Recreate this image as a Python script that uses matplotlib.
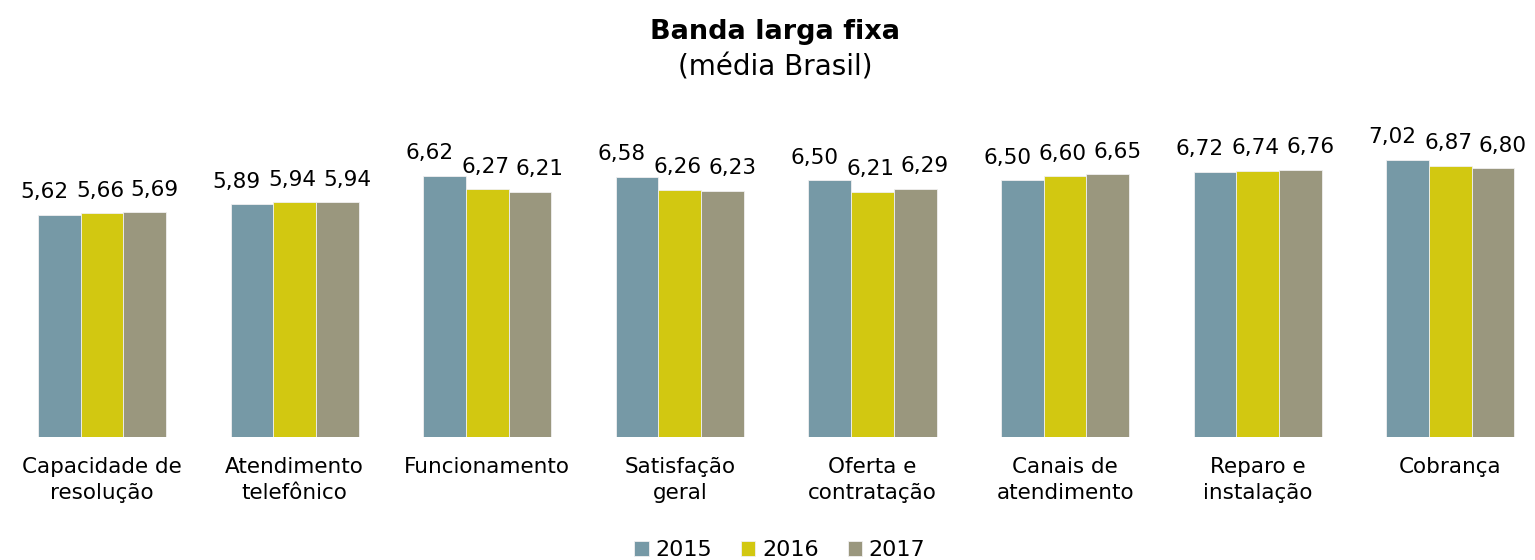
import matplotlib.pyplot as plt
import numpy as np

plt.rcParams['font.family'] = ['DejaVu Sans']

# Data
categories = ['Capacidade de\nresolução', 'Atendimento\ntelefônico', 'Funcionamento',
              'Satisfação\ngeral', 'Oferta e\ncontratação', 'Canais de\natendimento',
              'Reparo e\ninstalação', 'Cobrança']
years = ['2015', '2016', '2017']
v2015 = [5.62, 5.89, 6.62, 6.58, 6.50, 6.50, 6.72, 7.02]
v2016 = [5.66, 5.94, 6.27, 6.26, 6.21, 6.60, 6.74, 6.87]
v2017 = [5.69, 5.94, 6.21, 6.23, 6.29, 6.65, 6.76, 6.80]

colors = ['#7699A6', '#D2C811', '#9A977E']
series = [v2015, v2016, v2017]

fig = plt.figure(figsize=(15.35, 5.6), dpi=100)
ax = fig.add_axes([0, 0.2196, 1, 0.5643])

x = np.arange(len(categories))
w = 0.222
label_dx = [-11, -1.5, 7]  # points

for i, (vals, yr, c) in enumerate(zip(series, years, colors)):
    pos = x + (i - 1) * w
    ax.bar(pos, vals, width=w, color=c, label=yr, edgecolor='#f0f0f0', linewidth=0.6)
    for px, v in zip(pos, vals):
        ax.annotate(f'{v:.2f}'.replace('.', ','), (px, v), xytext=(label_dx[i], 12),
                    textcoords='offset points', ha='center', va='baseline', fontsize=15.5)

ax.set_xlim(-0.53, 7.44)
ax.set_ylim(0, 8)
ax.axis('off')

for xi, cat in zip(x, categories):
    ax.text(xi, -0.5, cat, ha='center', va='top', fontsize=15.5, linespacing=1.4)

fig.text(0.505, 0.943, 'Banda larga fixa', ha='center', va='center', fontsize=19.5, fontweight='bold')
fig.text(0.505, 0.879, '(média Brasil)', ha='center', va='center', fontsize=20)

fig.legend(loc='center', bbox_to_anchor=(0.508, 0.018), ncol=3, frameon=False, fontsize=16,
           handlelength=0.65, handleheight=0.65, handletextpad=0.3, columnspacing=1.3,
           borderaxespad=0)

fig.savefig('out.png', dpi=100)
